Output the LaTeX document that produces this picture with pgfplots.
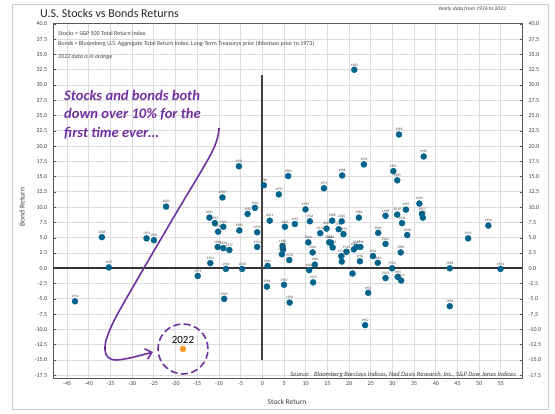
\documentclass[border=0pt]{standalone}
\usepackage{pgfplots}
\usepackage{pgfplotstable}
\pgfplotsset{compat=1.18}
\usepackage{fontspec}
\setmainfont{Carlito}
\usetikzlibrary{arrows.meta}
\definecolor{dotblue}{HTML}{00638C}
\definecolor{orange22}{HTML}{F39A30}
\definecolor{annpurple}{HTML}{7030A0}
\definecolor{gridgrey}{HTML}{DCDCDC}
\definecolor{framegrey}{HTML}{595959}
\definecolor{labgrey}{HTML}{404040}
\pgfplotstableread{
x y year
10.95 7.7 1926
36.8 8.9 1927
43.2 0.0 1928
-9.0 3.3 1929
-25.0 4.6 1930
-43.2 -5.4 1931
-5.4 16.7 1932
54.9 -0.1 1933
-1.7 9.9 1934
47.45 4.9 1935
32.2 7.4 1936
-35.4 0.15 1937
33.4 5.45 1938
-1.2 5.9 1939
-10.2 6.0 1940
-12.0 0.85 1941
21.1 3.1 1942
25.5 2.0 1943
19.4 2.7 1944
36.2 10.6 1945
-8.4 -0.1 1946
5.0 -2.7 1947
4.65 3.65 1948
17.6 6.4 1949
29.9 0.0 1950
24.4 -4.0 1951
18.3 1.1 1952
-1.2 3.5 1953
52.1 7.0 1954
31.2 -1.4 1955
6.3 -5.6 1956
-10.95 7.4 1957
43.2 -6.2 1958
11.7 -2.3 1959
0.35 13.6 1960
26.6 0.9 1961
-9.0 6.8 1962
22.5 1.15 1963
16.2 3.4 1964
12.1 0.6 1965
-10.3 3.5 1966
23.7 -9.3 1967
10.8 -0.3 1968
-8.8 -5.0 1969
3.8 12.1 1970
14.2 13.1 1971
18.7 5.6 1972
-14.9 -1.25 1973
-26.7 4.9 1974
37.0 8.3 1975
23.4 17.0 1976
-7.6 3.0 1977
6.2 1.35 1978
18.2 2.0 1979
31.9 2.6 1980
-5.3 6.2 1981
21.2 32.5 1982
22.25 8.3 1983
5.95 15.1 1984
31.5 21.9 1985
18.4 15.2 1986
4.8 3.1 1987
16.1 7.8 1988
31.1 14.4 1989
-3.4 8.9 1990
30.2 15.9 1991
7.5 7.25 1992
9.95 9.65 1993
1.05 -3.0 1994
37.2 18.3 1995
22.6 3.5 1996
33.1 9.6 1997
28.4 8.6 1998
20.8 -0.85 1999
-9.2 11.6 2000
-12.2 8.3 2001
-22.2 10.1 2002
28.4 4.0 2003
10.6 4.25 2004
4.5 2.3 2005
15.4 4.25 2006
5.2 6.8 2007
-37.0 5.1 2008
26.7 5.8 2009
14.8 6.5 2010
1.7 7.8 2011
15.8 4.2 2012
32.0 -2.0 2013
13.35 5.75 2014
1.2 0.4 2015
11.6 2.6 2016
21.7 3.5 2017
-4.65 -0.1 2018
31.1 8.8 2019
18.3 7.7 2020
28.4 -1.6 2021
}\stockbond
\begin{document}
\begin{tikzpicture}
\path[use as bounding box] (-53.3pt,-34.7pt) rectangle (501.7pt,378.3pt);
\draw[color=gray!40, line width=0.7pt] (-41.3pt,-30.7pt) rectangle (494.7pt,374.3pt);
\begin{axis}[
  at={(0pt,0pt)}, anchor=south west,
  scale only axis, width=469.3pt, height=354.4pt,
  xmin=-48.2, xmax=60, ymin=-18, ymax=40,
  xtick={-45,-40,...,55},
  ytick={-17.5,-15,...,40},
  grid=major,
  major grid style={color=gridgrey, line width=0.9pt},
  axis line style={color=framegrey, line width=0.9pt},
  xtick style={draw=none},
  ytick style={color=framegrey, line width=0.5pt},
  major tick length=2.5pt,
  tick align=inside,
  ytick pos=both,
  yticklabel pos=left,
  /pgf/number format/assume math mode=true,
  ticklabel style={font=\fontsize{6}{7}\selectfont, text=labgrey},
  yticklabel={\pgfmathprintnumber[fixed,fixed zerofill,precision=1]{\tick}},
  xticklabel={\pgfmathprintnumber[fixed,precision=0]{\tick}},
  yticklabel style={xshift=-2.5pt},
  xticklabel style={yshift=0pt},
  clip=false,
]
\draw[line width=1.9pt, color=black!80] (axis cs:-48.2,0) -- (axis cs:60,0);
\draw[line width=1.9pt, color=black!75] (axis cs:0,-15) -- (axis cs:0,31.6);
\addplot[only marks, mark=*, mark size=3pt, color=dotblue,
  nodes near coords, point meta=explicit symbolic,
  every node near coord/.style={font=\fontsize{3.5}{4}\selectfont, text=labgrey, anchor=south, inner sep=0pt, yshift=3.5pt}]
  table[x=x, y=y, meta=year] {\stockbond};
\addplot[only marks, mark=*, mark size=3pt, color=orange22,
  nodes near coords={2022},
  every node near coord/.style={font=\fontsize{11}{11}\selectfont, text=black, anchor=south, inner sep=0pt, yshift=4.7pt}]
  coordinates {(-18.3,-13.2)};
\draw[annpurple, line width=1.6pt, dash pattern=on 7pt off 3.5pt] (axis cs:-18.3,-13.2) circle[radius=25pt];
\end{axis}
\begin{axis}[
  at={(0pt,0pt)}, anchor=south west,
  scale only axis, width=469.3pt, height=354.4pt,
  xmin=-48.2, xmax=60, ymin=-18, ymax=40,
  axis x line=none,
  axis y line*=right,
  ytick={-17.5,-15,...,40},
  axis line style={color=framegrey, line width=0.9pt, -},
  ytick style={draw=none},
  /pgf/number format/assume math mode=true,
  ticklabel style={font=\fontsize{6}{7}\selectfont, text=labgrey},
  yticklabel={\pgfmathprintnumber[fixed,fixed zerofill,precision=1]{\tick}},
  yticklabel style={xshift=2.5pt},
]
\addplot[draw=none] coordinates {(0,0)};
\end{axis}
\begin{scope}[x=1pt, y=-1pt, shift={(-53.3pt,378.3pt)}]
  \node[anchor=west, inner sep=0pt, font=\fontsize{12}{12}\selectfont, text=black!85] at (40,13) {U.S. Stocks vs Bonds Returns};
  \node[anchor=east, inner sep=0pt, font=\fontsize{5.5}{6}\selectfont\itshape, text=labgrey] at (506,9) {Yearly data from 1926 to 2022};
  \node[anchor=west, inner sep=0pt, font=\fontsize{6}{7}\selectfont, text=labgrey] at (58,33) {Stocks = S\&P 500 Total Return Index};
  \node[anchor=west, inner sep=0pt, font=\fontsize{6}{7}\selectfont, text=labgrey] at (58,44) {Bonds = Bloomberg U.S. Aggregate Total Return Index, Long-Term Treasurys prior (Ibbotson prior to 1973)};
  \node[anchor=west, inner sep=0pt, font=\fontsize{6}{7}\selectfont\itshape, text=labgrey] at (58,57) {2022 data is in orange};
  \node[anchor=north west, align=left, inner sep=0pt, font=\fontsize{14.6}{18.5}\selectfont\bfseries\itshape, text=annpurple] at (64,90) {Stocks and bonds both\\down over 10\% for the\\first time ever\ldots};
  \draw[annpurple, line width=1.6pt, -{Straight Barb[length=6pt, width=11pt]}]
    plot[smooth, tension=0.6] coordinates {(219,128) (212,152) (175,215) (137,280) (112,325) (105,350) (116,360) (153,352)};
  \node[anchor=east, inner sep=0pt, font=\fontsize{6.5}{7}\selectfont\itshape, text=labgrey] at (516,375) {Source:\ \ \ Bloomberg Barclays Indices, Ned Davis Research, Inc., S\&P Dow Jones Indices};
  \node[inner sep=0pt, font=\fontsize{7.5}{8}\selectfont, text=labgrey] at (287,402) {Stock Return};
  \node[inner sep=0pt, rotate=90, font=\fontsize{7.5}{8}\selectfont, text=labgrey] at (22,207) {Bond Return};
\end{scope}
\end{tikzpicture}
\end{document}
